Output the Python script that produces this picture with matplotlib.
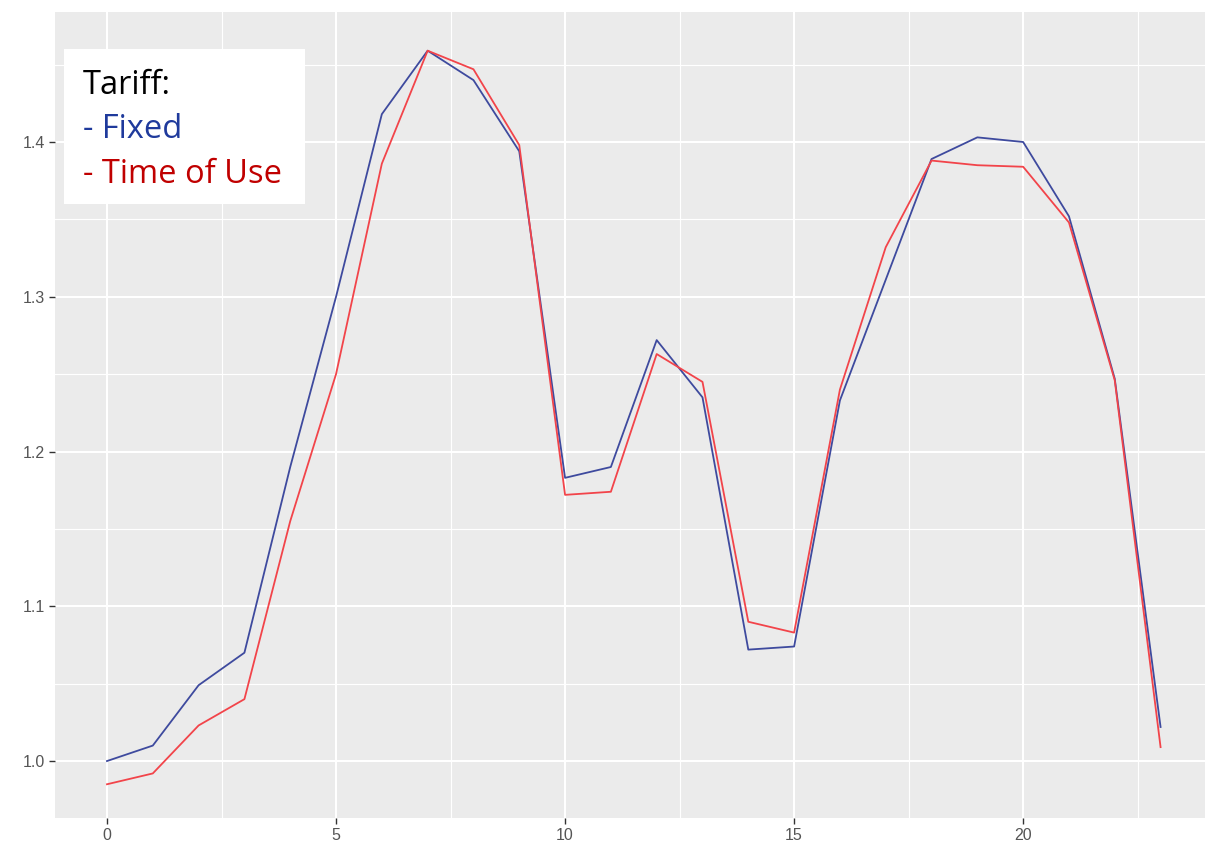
import matplotlib
matplotlib.use("Agg")
import matplotlib.pyplot as plt
from matplotlib.patches import Rectangle
from matplotlib.ticker import MultipleLocator

# hour of day
hours = list(range(24))

# normalised load profiles
fixed = [1.000, 1.010, 1.049, 1.070, 1.190, 1.300, 1.418, 1.459,
         1.440, 1.394, 1.183, 1.190, 1.272, 1.235, 1.072, 1.074,
         1.233, 1.311, 1.389, 1.403, 1.400, 1.352, 1.247, 1.022]
time_of_use = [0.985, 0.992, 1.023, 1.040, 1.155, 1.250, 1.386, 1.459,
               1.447, 1.398, 1.172, 1.174, 1.263, 1.245, 1.090, 1.083,
               1.240, 1.332, 1.388, 1.385, 1.384, 1.348, 1.246, 1.009]

legend_title = "Tariff:"
legend_items = ["- Fixed", "- Time of Use"]
legend_colors = ["#1F3A9C", "#C00000"]

fig = plt.figure(figsize=(12.05, 8.5), dpi=100)
ax = fig.add_axes([55 / 1205, 1 - 818 / 850, 1 - 55 / 1205, (818 - 12) / 850])

ax.set_facecolor("#EBEBEB")
ax.plot(hours, fixed, color="#3E4A9E", lw=1.3, zorder=3)
ax.plot(hours, time_of_use, color="#F2444A", lw=1.3, zorder=3)

ax.set_xlim(-1.135, 23.97)
ax.set_ylim(0.9632, 1.484)
ax.xaxis.set_minor_locator(MultipleLocator(2.5))
ax.yaxis.set_minor_locator(MultipleLocator(0.05))
ax.set_xticks(range(0, 21, 5))
ax.set_yticks([1.0, 1.1, 1.2, 1.3, 1.4])
ax.set_yticklabels(["1.0", "1.1", "1.2", "1.3", "1.4"])

ax.grid(which="major", color="white", lw=1.5, zorder=1)
ax.grid(which="minor", color="white", lw=0.8, zorder=1)
ax.set_axisbelow(True)
for s in ax.spines.values():
    s.set_visible(False)
ax.tick_params(which="major", length=4, width=1.0, color="#333333",
               labelcolor="#555555", labelsize=11.5, pad=3)
ax.tick_params(which="minor", length=0)
for lab in ax.get_xticklabels() + ax.get_yticklabels():
    lab.set_family(["Liberation Sans", "DejaVu Sans"])

# text-box legend
fig.patches.append(Rectangle((64 / 1205, 1 - 204 / 850), 241 / 1205, 155 / 850,
                             transform=fig.transFigure, facecolor="white",
                             edgecolor="none", zorder=5))
fam = ["Open Sans", "DejaVu Sans"]
fig.text(83 / 1205, 1 - 94 / 850, legend_title, color="black", fontsize=23.5,
         family=fam, va="baseline", zorder=6)
for i, (t, c) in enumerate(zip(legend_items, legend_colors)):
    fig.text(83 / 1205, 1 - (138 + 45 * i) / 850, t, color=c, fontsize=23.5,
             family=fam, va="baseline", zorder=6)

fig.savefig("out.png", dpi=100)
